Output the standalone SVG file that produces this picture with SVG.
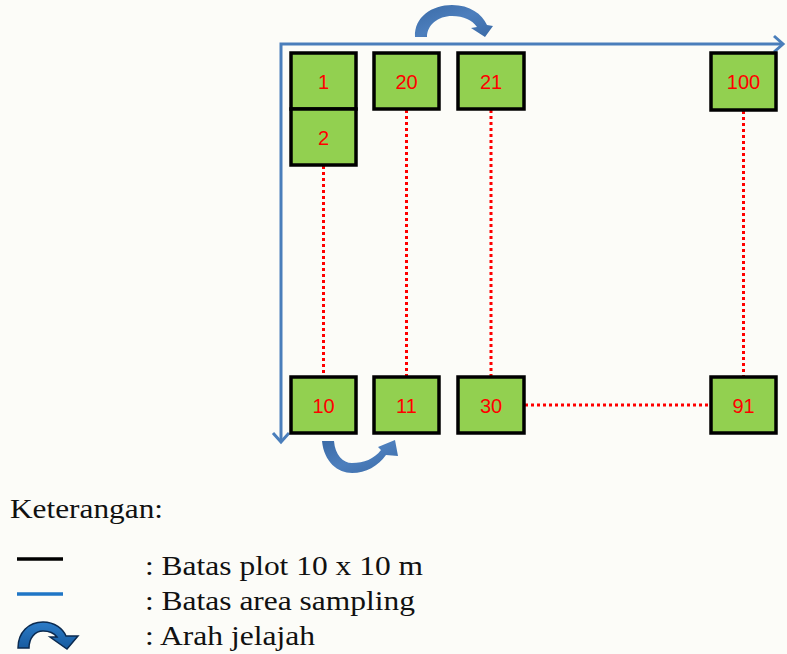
<svg xmlns="http://www.w3.org/2000/svg" width="787" height="654" viewBox="0 0 787 654">
  <style>
    .plot rect { fill: #92d050; stroke: #000; stroke-width: 3.5; }
    .plot text { font-family: "Liberation Sans", Arial, sans-serif; font-size: 20px; fill: #ff0000; text-anchor: middle; }
    .path { fill: none; stroke: #ff0000; stroke-width: 3; stroke-dasharray: 3 3; }
    .frame { fill: none; stroke: #4a7ebb; stroke-width: 3; stroke-linejoin: miter; }
    .turn { fill: url(#turnFill); }
    .legend { font-family: "Liberation Serif", "Times New Roman", serif; font-size: 28px; fill: #111; }
  </style>
  <defs>
    <linearGradient id="turnFill" x1="0" y1="0" x2="1" y2="1">
      <stop offset="0" stop-color="#3a6aa6"/>
      <stop offset="0.5" stop-color="#4d7fbd"/>
      <stop offset="1" stop-color="#3a6aa6"/>
    </linearGradient>
    <linearGradient id="iconFill" x1="0" y1="0" x2="0" y2="1">
      <stop offset="0" stop-color="#2c7cc8"/>
      <stop offset="1" stop-color="#175a9e"/>
    </linearGradient>
    <marker id="chevron" markerUnits="userSpaceOnUse" viewBox="-12 -11 16 22" markerWidth="16" markerHeight="22" refX="0" refY="0" orient="auto-start-reverse">
      <path d="M -8 -8 L 1 0 L -8 8" fill="none" stroke="#4a7ebb" stroke-width="3"/>
    </marker>
  </defs>

  <rect width="787" height="654" fill="#fcfcf8"/>

  <!-- sampling area boundary -->
  <g id="connectors">
    <path class="frame" d="M 281 441 L 281 44 L 782 44" marker-start="url(#chevron)" marker-end="url(#chevron)"/>
    <!-- survey order between plots -->
    <line class="path" x1="323.5" y1="166" x2="323.5" y2="376"/>
    <line class="path" x1="406.5" y1="110" x2="406.5" y2="376"/>
    <line class="path" x1="491" y1="110" x2="491" y2="376"/>
    <line class="path" x1="743.5" y1="111" x2="743.5" y2="376"/>
    <line class="path" x1="525" y1="405" x2="710" y2="405"/>
    <!-- turning arrows -->
    <path class="turn" d="M 415 37 C 414 17 432 5 452 5 C 470 5 482 14 487 25 L 493 26 L 485 37 L 471 28 L 477 27 C 472 20 464 16 452 16 C 438 16 427 25 427 37 Z"/>
    <path class="turn" d="M 322 441 C 324 462 338 473 352 473 C 366 473 378 466 386 455 L 398 456 L 395 440 L 378 447 L 381 450 C 374 459 364 463 352 463 C 343 463 335 455 334 441 Z"/>
  </g>

  <!-- 10 x 10 m plots -->
  <g id="plot-1" class="plot"><rect x="291" y="53" width="65" height="56"/><text x="323.5" y="88.5">1</text></g>
  <g id="plot-2" class="plot"><rect x="291" y="109" width="65" height="56"/><text x="323.5" y="144.5">2</text></g>
  <g id="plot-20" class="plot"><rect x="374" y="53" width="65" height="56"/><text x="406.5" y="88.5">20</text></g>
  <g id="plot-21" class="plot"><rect x="458" y="53" width="66" height="56"/><text x="491" y="88.5">21</text></g>
  <g id="plot-100" class="plot"><rect x="711" y="53" width="65" height="57"/><text x="743.5" y="89">100</text></g>
  <g id="plot-10" class="plot"><rect x="291" y="377" width="65" height="56"/><text x="323.5" y="412.5">10</text></g>
  <g id="plot-11" class="plot"><rect x="374" y="377" width="65" height="56"/><text x="406.5" y="412.5">11</text></g>
  <g id="plot-30" class="plot"><rect x="458" y="377" width="66" height="56"/><text x="491" y="412.5">30</text></g>
  <g id="plot-91" class="plot"><rect x="711" y="377" width="65" height="56"/><text x="743.5" y="412.5">91</text></g>

  <!-- key -->
  <g id="legend">
    <text class="legend" x="10" y="518" textLength="153" lengthAdjust="spacingAndGlyphs">Keterangan:</text>
    <line x1="17" y1="559" x2="63" y2="559" stroke="#000" stroke-width="3.5"/>
    <text class="legend" x="145" y="575" textLength="278" lengthAdjust="spacingAndGlyphs">: Batas plot 10 x 10 m</text>
    <line x1="17" y1="594" x2="63" y2="594" stroke="#1f76c6" stroke-width="3.5"/>
    <text class="legend" x="145" y="610" textLength="270" lengthAdjust="spacingAndGlyphs">: Batas area sampling</text>
    <path d="M 18 648 C 18 632 29 622 43 622 C 55 622 63 629 66 636 L 78 636 L 67 649 L 50 637 L 57 637 C 54 633 49 631 43 631 C 35 631 29 638 29 648 Z" fill="url(#iconFill)" stroke="#0b2a4f" stroke-width="1.5" stroke-linejoin="miter"/>
    <text class="legend" x="145" y="645" textLength="170" lengthAdjust="spacingAndGlyphs">: Arah jelajah</text>
  </g>
</svg>
